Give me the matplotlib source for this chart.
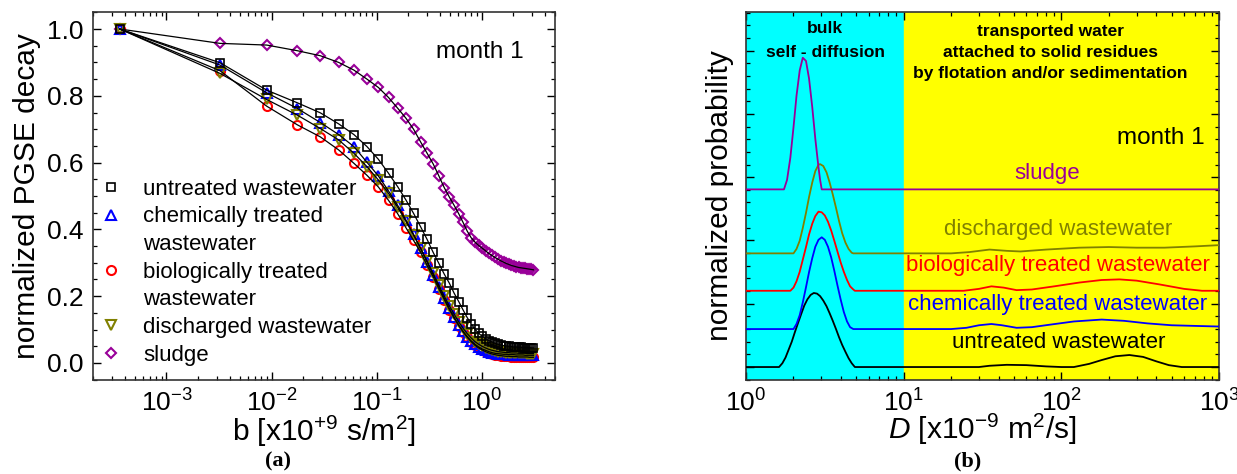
import matplotlib
matplotlib.use("Agg")
import matplotlib.pyplot as plt
from matplotlib.lines import Line2D
from matplotlib.ticker import MultipleLocator, LogLocator, NullFormatter

plt.rcParams['font.family'] = ['Liberation Sans', 'DejaVu Sans']
plt.rcParams['mathtext.fontset'] = 'custom'
plt.rcParams['mathtext.rm'] = 'Liberation Sans'
plt.rcParams['mathtext.it'] = 'Liberation Sans:italic'
plt.rcParams['mathtext.bf'] = 'Liberation Sans:bold'

# ---- panel (a): PGSE decays, b in units of 1e9 s/m^2 ----
b_values = [0.00036, 0.00324, 0.009, 0.01764, 0.02916, 0.04356, 0.06084, 0.081,
            0.10404, 0.12996, 0.15876, 0.19044, 0.225, 0.26244, 0.30276, 0.34596,
            0.39204, 0.441, 0.49284, 0.54756, 0.60516, 0.66564, 0.729, 0.79524,
            0.86436, 0.93636, 1.01124, 1.089, 1.16964, 1.25316, 1.33956, 1.42884,
            1.521, 1.61604, 1.71396, 1.81476, 1.91844, 2.025, 2.13444, 2.24676,
            2.36196, 2.48004, 2.601, 2.72484, 2.85156, 2.98116, 3.11364]

decay_untreated = [1.0, 0.899, 0.817, 0.779, 0.749, 0.716, 0.684, 0.648, 0.610, 0.568,
                   0.528, 0.488, 0.448, 0.408, 0.370, 0.331, 0.298, 0.266, 0.239, 0.209,
                   0.184, 0.159, 0.136, 0.117, 0.101, 0.089, 0.080, 0.073, 0.067, 0.063,
                   0.059, 0.056, 0.054, 0.052, 0.051, 0.050, 0.049, 0.048, 0.048, 0.047,
                   0.047, 0.046, 0.046, 0.046, 0.045, 0.045, 0.045]
decay_chemical = [1.0, 0.892, 0.809, 0.762, 0.720, 0.684, 0.648, 0.601, 0.560, 0.515,
                  0.472, 0.428, 0.385, 0.343, 0.302, 0.264, 0.228, 0.194, 0.164, 0.137,
                  0.114, 0.095, 0.079, 0.066, 0.056, 0.048, 0.042, 0.038, 0.034, 0.031,
                  0.029, 0.028, 0.027, 0.026, 0.026, 0.025, 0.025, 0.025, 0.024, 0.024,
                  0.024, 0.024, 0.023, 0.023, 0.023, 0.023, 0.023]
decay_biological = [1.0, 0.875, 0.769, 0.713, 0.677, 0.638, 0.598, 0.562, 0.527, 0.487,
                    0.447, 0.405, 0.367, 0.332, 0.292, 0.258, 0.222, 0.190, 0.160, 0.134,
                    0.112, 0.093, 0.077, 0.064, 0.053, 0.045, 0.039, 0.034, 0.030, 0.027,
                    0.025, 0.023, 0.022, 0.021, 0.020, 0.020, 0.019, 0.019, 0.019, 0.018,
                    0.018, 0.018, 0.018, 0.018, 0.017, 0.017, 0.017]
decay_discharged = [1.0, 0.867, 0.789, 0.742, 0.702, 0.668, 0.628, 0.588, 0.548, 0.508,
                    0.466, 0.424, 0.383, 0.343, 0.305, 0.268, 0.233, 0.200, 0.171, 0.146,
                    0.123, 0.104, 0.088, 0.075, 0.064, 0.056, 0.050, 0.045, 0.041, 0.038,
                    0.036, 0.034, 0.033, 0.032, 0.031, 0.031, 0.030, 0.030, 0.030, 0.029,
                    0.029, 0.029, 0.029, 0.028, 0.028, 0.028, 0.028]
decay_sludge = [1.0, 0.957, 0.952, 0.935, 0.920, 0.900, 0.877, 0.850, 0.825, 0.795,
                0.763, 0.733, 0.700, 0.662, 0.628, 0.596, 0.560, 0.525, 0.497, 0.472,
                0.447, 0.421, 0.395, 0.375, 0.362, 0.352, 0.344, 0.336, 0.328, 0.322,
                0.316, 0.311, 0.306, 0.302, 0.298, 0.295, 0.292, 0.290, 0.288, 0.286,
                0.285, 0.284, 0.283, 0.282, 0.281, 0.280, 0.279]

# ---- panel (b): diffusion distributions (height above each baseline) ----
D_untreated = [1.0, 1.62, 1.70, 1.78, 1.86, 1.95, 2.04, 2.14, 2.24, 2.34, 2.45, 2.57, 2.69,
               2.82, 2.95, 3.09, 3.24, 3.39, 3.55, 3.72, 3.89, 4.07, 4.27, 4.47, 4.68, 4.90,
               30, 35, 45, 60, 80, 100, 120, 150, 180, 220, 270, 330, 400, 480, 580, 1000]
P_untreated = [0, 0, 0.06, 0.15, 0.27, 0.40, 0.55, 0.70, 0.84, 0.97, 1.07, 1.14, 1.17,
               1.16, 1.12, 1.05, 0.96, 0.85, 0.73, 0.60, 0.47, 0.35, 0.24, 0.14, 0.06, 0,
               0, 0.02, 0.035, 0.03, 0.01, 0, 0, 0.05, 0.11, 0.17, 0.19, 0.16, 0.09, 0.03, 0, 0]

D_chemical = [1.0, 2.00, 2.09, 2.19, 2.29, 2.40, 2.51, 2.63, 2.75, 2.88, 3.02, 3.16, 3.31,
              3.47, 3.63, 3.80, 3.98, 4.17, 4.37, 4.57, 4.79,
              20, 25, 30, 36, 42, 52, 65, 85, 120, 180, 250, 350, 500, 700, 1000]
P_chemical = [0, 0, 0.08, 0.22, 0.42, 0.66, 0.90, 1.12, 1.30, 1.41, 1.45, 1.41, 1.30,
              1.13, 0.92, 0.69, 0.47, 0.27, 0.12, 0.03, 0,
              0, 0.02, 0.06, 0.08, 0.06, 0.02, 0.03, 0.07, 0.12, 0.15, 0.13, 0.09, 0.06, 0.05, 0.04]

D_biological = [1.0, 1.91, 2.00, 2.09, 2.19, 2.29, 2.40, 2.51, 2.63, 2.75, 2.88, 3.02, 3.16,
                3.31, 3.47, 3.63, 3.80, 3.98, 4.17, 4.37, 4.57, 4.79, 4.90,
                24, 30, 36, 43, 52, 65, 90, 130, 180, 233, 300, 420, 600, 780, 1000]
P_biological = [0, 0, 0.05, 0.15, 0.30, 0.49, 0.69, 0.89, 1.06, 1.18, 1.25, 1.24, 1.19,
                1.09, 0.95, 0.79, 0.62, 0.45, 0.30, 0.17, 0.07, 0.02, 0,
                0, 0.03, 0.07, 0.05, 0.01, 0.02, 0.07, 0.13, 0.17, 0.18, 0.16, 0.10, 0.03, 0, 0]

D_discharged = [1.0, 2.00, 2.09, 2.19, 2.29, 2.40, 2.51, 2.63, 2.75, 2.88, 2.95, 3.09, 3.24,
                3.39, 3.55, 3.72, 3.89, 4.07, 4.27, 4.47, 4.68, 4.79,
                20, 26, 35, 45, 55, 80, 130, 200, 300, 450, 700, 1000]
P_discharged = [0, 0, 0.07, 0.20, 0.40, 0.64, 0.89, 1.12, 1.30, 1.40, 1.41, 1.38, 1.28,
                1.12, 0.93, 0.72, 0.51, 0.32, 0.17, 0.07, 0.01, 0,
                0, 0.02, 0.06, 0.04, 0.03, 0.06, 0.09, 0.10, 0.09, 0.09, 0.11, 0.13]

D_sludge = [1.0, 1.74, 1.82, 1.91, 2.00, 2.09, 2.19, 2.29, 2.40, 2.51, 2.63, 2.75, 2.88,
            2.95, 3.02, 1000]
P_sludge = [0, 0, 0.15, 0.50, 0.98, 1.48, 1.88, 2.08, 2.03, 1.75, 1.30, 0.80, 0.35,
            0.15, 0, 0]

# vertical stacking offsets of the distributions
offsets = {'untreated': 0.0, 'chemical': 0.60, 'biological': 1.205,
           'discharged': 1.796, 'sludge': 2.807}

PURPLE = '#990099'
OLIVE = '#808000'

fig = plt.figure(figsize=(12.37, 4.74), dpi=100)
ax1 = fig.add_axes([0.0752, 0.1983, 0.3735, 0.7764])
ax2 = fig.add_axes([0.6031, 0.1983, 0.3824, 0.7764])

# ---- (a) ----
ms = 6.5
mew = 1.5
ax1.plot(b_values, decay_sludge, 'D', ms=5.5, mfc='none', mec=PURPLE, mew=mew)
ax1.plot(b_values, decay_biological, 'o', ms=ms, mfc='none', mec='red', mew=mew)
ax1.plot(b_values, decay_chemical, '^', ms=ms, mfc='none', mec='blue', mew=mew)
ax1.plot(b_values, decay_discharged, 'v', ms=ms, mfc='none', mec=OLIVE, mew=mew)
ax1.plot(b_values, decay_untreated, 's', ms=6, mfc='none', mec='black', mew=1.2)
for ys in [decay_untreated, decay_chemical, decay_biological, decay_discharged, decay_sludge]:
    ax1.plot(b_values, ys, '-', color='black', lw=0.9)

ax1.set_xscale('log')
ax1.set_xlim(2e-4, 5)
ax1.set_ylim(-0.051, 1.051)
ax1.yaxis.set_minor_locator(MultipleLocator(0.05))
ax1.set_yticks([0.0, 0.2, 0.4, 0.6, 0.8, 1.0])
ax1.set_yticklabels(['0.0', '0.2', '0.4', '0.6', '0.8', '1.0'])
ax1.xaxis.set_major_locator(LogLocator(base=10, numticks=10))
ax1.xaxis.set_minor_locator(LogLocator(base=10, subs=range(2, 10), numticks=10))
ax1.xaxis.set_minor_formatter(NullFormatter())
ax1.set_xlabel(r'b [x10$^{+9}$ s/m$^{2}$]', fontsize=21.5, labelpad=-2)
ax1.set_ylabel('normalized PGSE decay', fontsize=21.5, labelpad=4)
ax1.text(0.838, 0.891, 'month 1', transform=ax1.transAxes, fontsize=17.5,
         ha='center', va='center')

h_empty = Line2D([], [], linestyle='none', marker='none')
handles = [
    Line2D([], [], ls='none', marker='s', ms=6, mfc='none', mec='black', mew=1.2),
    Line2D([], [], ls='none', marker='^', ms=ms, mfc='none', mec='blue', mew=mew),
    h_empty,
    Line2D([], [], ls='none', marker='o', ms=ms, mfc='none', mec='red', mew=mew),
    h_empty,
    Line2D([], [], ls='none', marker='v', ms=ms, mfc='none', mec=OLIVE, mew=mew),
    Line2D([], [], ls='none', marker='D', ms=5.5, mfc='none', mec=PURPLE, mew=mew),
]
labels = ['untreated wastewater', 'chemically treated', 'wastewater',
          'biologically treated', 'wastewater', 'discharged wastewater', 'sludge']
ax1.legend(handles, labels, loc='upper left', bbox_to_anchor=(0.0, 0.565),
           frameon=False, fontsize=16, handlelength=1.0, handletextpad=0.95,
           labelspacing=0.30, borderaxespad=0.0, borderpad=0.3)

# ---- (b) ----
ax2.axvspan(1, 10, color='#00FFFF', zorder=0)
ax2.axvspan(10, 1000, color='#FFFF00', zorder=0)

curves = [(D_untreated, P_untreated, 'untreated', 'black'),
          (D_chemical, P_chemical, 'chemical', 'blue'),
          (D_biological, P_biological, 'biological', 'red'),
          (D_discharged, P_discharged, 'discharged', OLIVE),
          (D_sludge, P_sludge, 'sludge', PURPLE)]
for D, P, key, col in curves:
    ax2.plot(D, [p + offsets[key] for p in P], color=col, lw=1.3, zorder=3)

ax2.set_xscale('log')
ax2.set_xlim(1, 1000)
ax2.set_ylim(-0.205, 5.61)
ax2.yaxis.set_major_locator(MultipleLocator(1))
ax2.yaxis.set_minor_locator(MultipleLocator(0.2))
ax2.set_yticklabels([])
ax2.xaxis.set_major_locator(LogLocator(base=10, numticks=10))
ax2.xaxis.set_minor_locator(LogLocator(base=10, subs=range(2, 10), numticks=10))
ax2.xaxis.set_minor_formatter(NullFormatter())
ax2.set_xlabel(r'$\mathit{D}$ [x10$^{-9}$ m$^{2}$/s]', fontsize=21.5, labelpad=-4)
ax2.set_ylabel('normalized probability', fontsize=21.5, labelpad=2)

bold_lines = [('bulk', 0.167, 0.954), ('self - diffusion', 0.167, 0.891),
              ('transported water', 0.643, 0.946),
              ('attached to solid residues', 0.643, 0.889),
              ('by flotation and/or sedimentation', 0.643, 0.832)]
for txt, xa, ya in bold_lines:
    ax2.text(xa, ya, txt, transform=ax2.transAxes, fontsize=12.5,
             fontweight='bold', ha='center', va='center')
ax2.text(0.970, 0.658, 'month 1', transform=ax2.transAxes, fontsize=17.5,
         ha='right', va='center')
ax2.text(0.636, 0.560, 'sludge', transform=ax2.transAxes, fontsize=16,
         ha='center', va='center', color=PURPLE)
ax2.text(0.660, 0.408, 'discharged wastewater', transform=ax2.transAxes, fontsize=16,
         ha='center', va='center', color=OLIVE)
ax2.text(0.660, 0.3125, 'biologically treated wastewater', transform=ax2.transAxes,
         fontsize=16, ha='center', va='center', color='red')
ax2.text(0.658, 0.204, 'chemically treated wastewater', transform=ax2.transAxes,
         fontsize=16, ha='center', va='center', color='blue')
ax2.text(0.660, 0.103, 'untreated wastewater', transform=ax2.transAxes, fontsize=16,
         ha='center', va='center', color='black')

for ax in (ax1, ax2):
    ax.tick_params(which='both', direction='in', top=True, right=True)
    ax.tick_params(which='major', length=6, width=1.0, labelsize=19, pad=7)
    ax.tick_params(which='minor', length=3, width=0.9)
    for s in ax.spines.values():
        s.set_linewidth(1.2)
        s.set_color('#333333')

fig.text(0.2247, 0.027, '(a)', fontsize=16, fontweight='bold',
         family=['Liberation Serif', 'DejaVu Serif'], ha='center', va='center')
fig.text(0.7825, 0.027, '(b)', fontsize=16, fontweight='bold',
         family=['Liberation Serif', 'DejaVu Serif'], ha='center', va='center')

fig.savefig('out.png', dpi=100)
